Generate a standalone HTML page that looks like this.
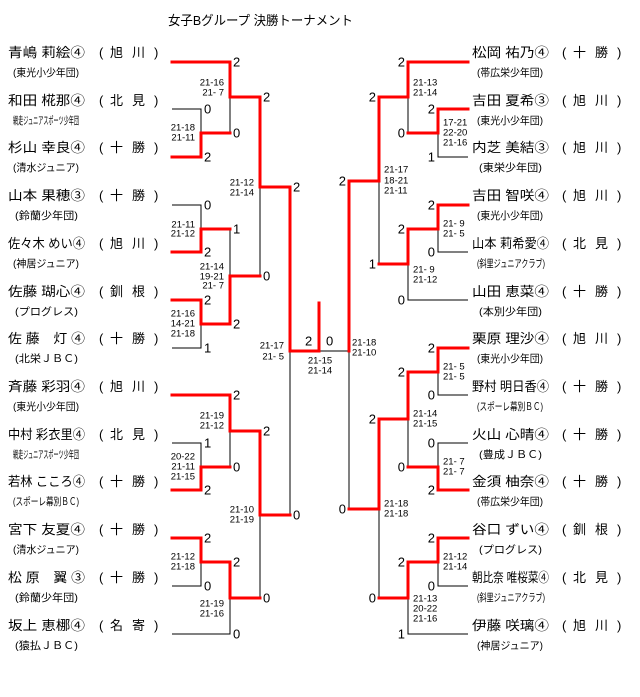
<!DOCTYPE html>
<html><head><meta charset="utf-8">
<style>
html,body{margin:0;padding:0;background:#fff;}
svg{display:block;}
text{font-family:"Liberation Sans","Noto Sans CJK JP",sans-serif;fill:#000;}
.n{font-size:13px;}
.s{font-size:10.5px;}
.p{font-size:13px;}
.sc{font-size:13px;dominant-baseline:central;}
.g{font-size:9.5px;dominant-baseline:central;}
.r{stroke:#f00;stroke-width:3;stroke-linecap:square;fill:none;}
.b{stroke:#000;stroke-width:1;fill:none;}
</style></head><body>
<svg width="640" height="697" viewBox="0 0 640 697" xmlns="http://www.w3.org/2000/svg">
<text x="168" y="25" font-size="13" textLength="185" lengthAdjust="spacingAndGlyphs">女子Bグループ 決勝トーナメント</text>

<!-- black lines -->
<g class="b">
<path d="M172 109H201V157M201 133V157"/>
<path d="M230 97V133"/>
<path d="M172 205H201V229"/>
<path d="M172 348H201V324"/>
<path d="M230 229V276"/>
<path d="M260 187V276"/>
<path d="M172 443H201V467"/>
<path d="M230 431V467"/>
<path d="M172 586H201V562"/>
<path d="M172 634H230V598"/>
<path d="M260 515V598"/>
<path d="M290 351V515"/>
<path d="M319 351H349"/>

<path d="M468 157H438V133"/>
<path d="M408 97V133"/>
<path d="M468 252H438V229"/>
<path d="M468 300H408V264"/>
<path d="M379 181V264"/>
<path d="M468 395H438V372"/>
<path d="M468 443H438V467"/>
<path d="M408 419V467"/>
<path d="M468 586H438V562"/>
<path d="M468 634H408V598"/>
<path d="M379 509V598"/>
<path d="M349 351V509"/>
</g>

<!-- red lines -->
<g class="r">
<path d="M172 62H230V97H260V187H290V351H319V303"/>
<path d="M172 157H201V133H230"/>
<path d="M172 252H201V229H230"/>
<path d="M172 300H201V324H230V276H260"/>
<path d="M172 395H230V431H260V515H290"/>
<path d="M172 490H201V467H230"/>
<path d="M172 538H201V562H230V598H260"/>

<path d="M468 62H408V97H379V181H349V351"/>
<path d="M468 109H438V133H408"/>
<path d="M468 205H438V229H408V264H379"/>
<path d="M468 348H438V372H408V419H379V509H349"/>
<path d="M468 490H438V467H408"/>
<path d="M468 538H438V562H408V598H379"/>
</g>

<!-- round scores left -->
<g class="sc">
<text x="233" y="62">2</text><text x="233" y="133">0</text><text x="233" y="229">1</text><text x="233" y="324">2</text>
<text x="233" y="395">2</text><text x="233" y="467">0</text><text x="233" y="562">2</text><text x="233" y="634">0</text>
<text x="204" y="109">0</text><text x="204" y="157">2</text><text x="204" y="205">0</text><text x="204" y="252">2</text>
<text x="204" y="300">2</text><text x="204" y="348">1</text><text x="204" y="443">1</text><text x="204" y="490">2</text>
<text x="204" y="538">2</text><text x="204" y="586">0</text>
<text x="263" y="97">2</text><text x="263" y="276">0</text><text x="263" y="431">2</text><text x="263" y="598">0</text>
<text x="293" y="187">2</text><text x="293" y="515">0</text>
<text x="305" y="341">2</text><text x="326" y="341">0</text>
</g>
<!-- round scores right -->
<g class="sc" text-anchor="end">
<text x="405" y="62">2</text><text x="405" y="133">0</text><text x="405" y="229">2</text><text x="405" y="300">0</text>
<text x="405" y="372">2</text><text x="405" y="467">0</text><text x="405" y="562">2</text><text x="405" y="634">1</text>
<text x="435" y="109">2</text><text x="435" y="157">1</text><text x="435" y="205">2</text><text x="435" y="252">0</text>
<text x="435" y="348">2</text><text x="435" y="395">0</text><text x="435" y="443">0</text><text x="435" y="490">2</text>
<text x="435" y="538">2</text><text x="435" y="586">0</text>
<text x="376" y="97">2</text><text x="376" y="264">1</text><text x="376" y="419">2</text><text x="376" y="598">0</text>
<text x="346" y="181">2</text><text x="346" y="509">0</text>
</g>

<!-- game scores left -->
<g class="g" text-anchor="end">
<text x="224" y="83">21-16</text><text x="224" y="93">21- 7</text>
<text x="195" y="128">21-18</text><text x="195" y="138">21-11</text>
<text x="195" y="225">21-11</text><text x="195" y="234">21-12</text>
<text x="224" y="267">21-14</text><text x="224" y="277">19-21</text><text x="224" y="286">21- 7</text>
<text x="195" y="314">21-16</text><text x="195" y="324">14-21</text><text x="195" y="334">21-18</text>
<text x="254" y="183">21-12</text><text x="254" y="193">21-14</text>
<text x="284" y="346">21-17</text><text x="284" y="357">21- 5</text>
<text x="224" y="416">21-19</text><text x="224" y="426">21-12</text>
<text x="195" y="457">20-22</text><text x="195" y="467">21-11</text><text x="195" y="477">21-15</text>
<text x="254" y="510">21-10</text><text x="254" y="520">21-19</text>
<text x="195" y="557">21-12</text><text x="195" y="567">21-18</text>
<text x="224" y="604">21-19</text><text x="224" y="614">21-16</text>
</g>
<g class="g" text-anchor="middle">
<text x="320" y="361">21-15</text><text x="320" y="371">21-14</text>
</g>
<!-- game scores right -->
<g class="g">
<text x="413" y="83">21-13</text><text x="413" y="93">21-14</text>
<text x="443" y="123">17-21</text><text x="443" y="133">22-20</text><text x="443" y="143">21-16</text>
<text x="384" y="170">21-17</text><text x="384" y="181">18-21</text><text x="384" y="191">21-11</text>
<text x="443" y="224">21- 9</text><text x="443" y="234">21- 5</text>
<text x="413" y="270">21- 9</text><text x="413" y="280">21-12</text>
<text x="352" y="343">21-18</text><text x="352" y="353">21-10</text>
<text x="443" y="367">21- 5</text><text x="443" y="377">21- 5</text>
<text x="413" y="414">21-14</text><text x="413" y="424">21-15</text>
<text x="443" y="462">21- 7</text><text x="443" y="472">21- 7</text>
<text x="384" y="504">21-18</text><text x="384" y="514">21-18</text>
<text x="443" y="557">21-12</text><text x="443" y="567">21-14</text>
<text x="413" y="599">21-13</text><text x="413" y="609">20-22</text><text x="413" y="619">21-16</text>
</g>

<!-- left names -->
<g class="n">
<text x="8" y="57" textLength="77" lengthAdjust="spacingAndGlyphs">青嶋 莉絵④</text>
<text x="8" y="105" textLength="77" lengthAdjust="spacingAndGlyphs">和田 椛那④</text>
<text x="8" y="152" textLength="77" lengthAdjust="spacingAndGlyphs">杉山 幸良④</text>
<text x="8" y="200" textLength="77" lengthAdjust="spacingAndGlyphs">山本 果穂③</text>
<text x="8" y="248" textLength="77" lengthAdjust="spacingAndGlyphs">佐々木 めい④</text>
<text x="8" y="296" textLength="77" lengthAdjust="spacingAndGlyphs">佐藤 瑚心④</text>
<text x="8" y="343" textLength="77" lengthAdjust="spacingAndGlyphs">佐 藤　灯 ④</text>
<text x="8" y="391" textLength="77" lengthAdjust="spacingAndGlyphs">斉藤 彩羽④</text>
<text x="8" y="439" textLength="77" lengthAdjust="spacingAndGlyphs">中村 彩衣里④</text>
<text x="8" y="486" textLength="77" lengthAdjust="spacingAndGlyphs">若林 こころ④</text>
<text x="8" y="534" textLength="77" lengthAdjust="spacingAndGlyphs">宮下 友夏④</text>
<text x="8" y="582" textLength="77" lengthAdjust="spacingAndGlyphs">松 原　翼 ③</text>
<text x="8" y="630" textLength="77" lengthAdjust="spacingAndGlyphs">坂上 恵梛④</text>
</g>
<g class="s">
<text x="13" y="76" textLength="66" lengthAdjust="spacingAndGlyphs">(東光小少年団)</text>
<text x="13" y="124" textLength="66" lengthAdjust="spacingAndGlyphs">網走ジュニアスポーツ少年団</text>
<text x="13" y="171" textLength="66" lengthAdjust="spacingAndGlyphs">(清水ジュニア)</text>
<text x="15" y="219" textLength="63" lengthAdjust="spacingAndGlyphs">(鈴蘭少年団)</text>
<text x="13" y="267" textLength="66" lengthAdjust="spacingAndGlyphs">(神居ジュニア)</text>
<text x="15" y="315" textLength="63" lengthAdjust="spacingAndGlyphs">(プログレス)</text>
<text x="15" y="362" textLength="63" lengthAdjust="spacingAndGlyphs">(北栄ＪＢＣ)</text>
<text x="13" y="410" textLength="66" lengthAdjust="spacingAndGlyphs">(東光小少年団)</text>
<text x="13" y="458" textLength="66" lengthAdjust="spacingAndGlyphs">網走ジュニアスポーツ少年団</text>
<text x="13" y="505" textLength="66" lengthAdjust="spacingAndGlyphs">(スポーレ幕別ＢＣ)</text>
<text x="13" y="553" textLength="66" lengthAdjust="spacingAndGlyphs">(清水ジュニア)</text>
<text x="15" y="601" textLength="63" lengthAdjust="spacingAndGlyphs">(鈴蘭少年団)</text>
<text x="15" y="649" textLength="63" lengthAdjust="spacingAndGlyphs">(猿払ＪＢＣ)</text>
</g>
<!-- left prefs -->
<g class="p">
<text x="99" y="57">(</text><text x="110" y="57">旭</text><text x="132" y="57">川</text><text x="154" y="57">)</text>
<text x="99" y="105">(</text><text x="110" y="105">北</text><text x="132" y="105">見</text><text x="154" y="105">)</text>
<text x="99" y="152">(</text><text x="110" y="152">十</text><text x="132" y="152">勝</text><text x="154" y="152">)</text>
<text x="99" y="200">(</text><text x="110" y="200">十</text><text x="132" y="200">勝</text><text x="154" y="200">)</text>
<text x="99" y="248">(</text><text x="110" y="248">旭</text><text x="132" y="248">川</text><text x="154" y="248">)</text>
<text x="99" y="296">(</text><text x="110" y="296">釧</text><text x="132" y="296">根</text><text x="154" y="296">)</text>
<text x="99" y="343">(</text><text x="110" y="343">十</text><text x="132" y="343">勝</text><text x="154" y="343">)</text>
<text x="99" y="391">(</text><text x="110" y="391">旭</text><text x="132" y="391">川</text><text x="154" y="391">)</text>
<text x="99" y="439">(</text><text x="110" y="439">北</text><text x="132" y="439">見</text><text x="154" y="439">)</text>
<text x="99" y="486">(</text><text x="110" y="486">十</text><text x="132" y="486">勝</text><text x="154" y="486">)</text>
<text x="99" y="534">(</text><text x="110" y="534">十</text><text x="132" y="534">勝</text><text x="154" y="534">)</text>
<text x="99" y="582">(</text><text x="110" y="582">十</text><text x="132" y="582">勝</text><text x="154" y="582">)</text>
<text x="99" y="630">(</text><text x="110" y="630">名</text><text x="132" y="630">寄</text><text x="154" y="630">)</text>
</g>

<!-- right names -->
<g class="n">
<text x="472" y="57" textLength="77" lengthAdjust="spacingAndGlyphs">松岡 祐乃④</text>
<text x="472" y="105" textLength="77" lengthAdjust="spacingAndGlyphs">吉田 夏希③</text>
<text x="472" y="152" textLength="77" lengthAdjust="spacingAndGlyphs">内芝 美結③</text>
<text x="472" y="200" textLength="77" lengthAdjust="spacingAndGlyphs">吉田 智咲④</text>
<text x="472" y="248" textLength="77" lengthAdjust="spacingAndGlyphs">山本 莉希愛④</text>
<text x="472" y="296" textLength="77" lengthAdjust="spacingAndGlyphs">山田 恵菜④</text>
<text x="472" y="343" textLength="77" lengthAdjust="spacingAndGlyphs">栗原 理沙④</text>
<text x="472" y="391" textLength="77" lengthAdjust="spacingAndGlyphs">野村 明日香④</text>
<text x="472" y="439" textLength="77" lengthAdjust="spacingAndGlyphs">火山 心晴④</text>
<text x="472" y="486" textLength="77" lengthAdjust="spacingAndGlyphs">金須 柚奈④</text>
<text x="472" y="534" textLength="77" lengthAdjust="spacingAndGlyphs">谷口 ずい④</text>
<text x="472" y="582" textLength="77" lengthAdjust="spacingAndGlyphs">朝比奈 唯桜菜④</text>
<text x="472" y="630" textLength="77" lengthAdjust="spacingAndGlyphs">伊藤 咲璃④</text>
</g>
<g class="s">
<text x="477" y="76" textLength="66" lengthAdjust="spacingAndGlyphs">(帯広栄少年団)</text>
<text x="477" y="124" textLength="66" lengthAdjust="spacingAndGlyphs">(東光小少年団)</text>
<text x="479" y="171" textLength="63" lengthAdjust="spacingAndGlyphs">(東栄少年団)</text>
<text x="477" y="219" textLength="66" lengthAdjust="spacingAndGlyphs">(東光小少年団)</text>
<text x="477" y="267" textLength="68" lengthAdjust="spacingAndGlyphs">(斜里ジュニアクラブ)</text>
<text x="479" y="315" textLength="63" lengthAdjust="spacingAndGlyphs">(本別少年団)</text>
<text x="477" y="362" textLength="66" lengthAdjust="spacingAndGlyphs">(東光小少年団)</text>
<text x="477" y="410" textLength="66" lengthAdjust="spacingAndGlyphs">(スポーレ幕別ＢＣ)</text>
<text x="479" y="458" textLength="63" lengthAdjust="spacingAndGlyphs">(豊成ＪＢＣ)</text>
<text x="477" y="505" textLength="66" lengthAdjust="spacingAndGlyphs">(帯広栄少年団)</text>
<text x="479" y="553" textLength="63" lengthAdjust="spacingAndGlyphs">(プログレス)</text>
<text x="477" y="601" textLength="68" lengthAdjust="spacingAndGlyphs">(斜里ジュニアクラブ)</text>
<text x="477" y="649" textLength="66" lengthAdjust="spacingAndGlyphs">(神居ジュニア)</text>
</g>
<g class="p">
<text x="562" y="57">(</text><text x="573" y="57">十</text><text x="595" y="57">勝</text><text x="617" y="57">)</text>
<text x="562" y="105">(</text><text x="573" y="105">旭</text><text x="595" y="105">川</text><text x="617" y="105">)</text>
<text x="562" y="152">(</text><text x="573" y="152">旭</text><text x="595" y="152">川</text><text x="617" y="152">)</text>
<text x="562" y="200">(</text><text x="573" y="200">旭</text><text x="595" y="200">川</text><text x="617" y="200">)</text>
<text x="562" y="248">(</text><text x="573" y="248">北</text><text x="595" y="248">見</text><text x="617" y="248">)</text>
<text x="562" y="296">(</text><text x="573" y="296">十</text><text x="595" y="296">勝</text><text x="617" y="296">)</text>
<text x="562" y="343">(</text><text x="573" y="343">旭</text><text x="595" y="343">川</text><text x="617" y="343">)</text>
<text x="562" y="391">(</text><text x="573" y="391">十</text><text x="595" y="391">勝</text><text x="617" y="391">)</text>
<text x="562" y="439">(</text><text x="573" y="439">十</text><text x="595" y="439">勝</text><text x="617" y="439">)</text>
<text x="562" y="486">(</text><text x="573" y="486">十</text><text x="595" y="486">勝</text><text x="617" y="486">)</text>
<text x="562" y="534">(</text><text x="573" y="534">釧</text><text x="595" y="534">根</text><text x="617" y="534">)</text>
<text x="562" y="582">(</text><text x="573" y="582">北</text><text x="595" y="582">見</text><text x="617" y="582">)</text>
<text x="562" y="630">(</text><text x="573" y="630">旭</text><text x="595" y="630">川</text><text x="617" y="630">)</text>
</g>
</svg>
</body></html>
